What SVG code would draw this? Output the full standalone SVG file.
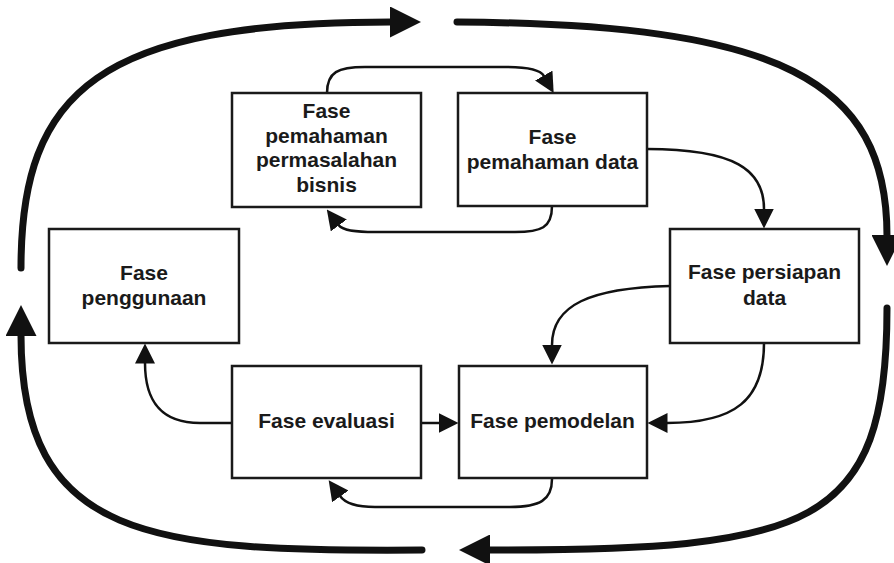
<svg xmlns="http://www.w3.org/2000/svg" width="894" height="563" viewBox="0 0 894 563">
<style>
.box{fill:none;stroke:#1a1a1a;stroke-width:2.5}
.lbl{font-family:"Liberation Sans",Arial,sans-serif;font-weight:bold;font-size:21px;fill:#1a1a1a;text-anchor:middle}
.thin{fill:none;stroke:#111;stroke-width:2.5;marker-end:url(#ah)}
.big{fill:none;stroke:#111;stroke-width:7;stroke-linecap:round;marker-end:url(#bh)}
</style>
<defs>
<marker id="ah" markerUnits="userSpaceOnUse" markerWidth="20" markerHeight="20" viewBox="0 0 20 20" refX="0.5" refY="10" orient="auto"><path d="M0,0 L20,10 L0,20 z" fill="#111"/></marker>
<marker id="bh" markerUnits="userSpaceOnUse" markerWidth="31" markerHeight="31" viewBox="0 0 31 31" refX="1" refY="15.5" orient="auto"><path d="M0,0 L31,15.5 L0,31 z" fill="#111"/></marker>
</defs>
<rect width="894" height="563" fill="#fff"/>
<g id="connectors">
<path class="big" d="M21,268 C21,90 100,22 391,22"/>
<path class="big" d="M457,22 C780,24 887,80 887,236"/>
<path class="big" d="M887,308 C887,530 810,550 489,550"/>
<path class="big" d="M422,550 C150,552 21,540 21,335"/>
<path class="thin" d="M327,93 C327,72 338,67 365,67 L505,67 C525,67 540,69 544,76"/>
<path class="thin" d="M552,206 C552,228 541,232 515,232 L375,232 C357,232 343,231 338.5,225"/>
<path class="thin" d="M647,149 C735,149 764,170 764,209"/>
<path class="thin" d="M670,286 C590,288 552,305 552,345"/>
<path class="thin" d="M764,343 C764,400 735,423 667,423"/>
<path class="thin" d="M421,423 L439,423"/>
<path class="thin" d="M232,423 L200,423 C160,423 145,400 145,363"/>
<path class="thin" d="M552,479 C552,500 540,507 510,507 L375,507 C358,507 345,503 340,496"/>
</g>
<g id="n-bisnis"><rect class="box" x="232" y="93" width="189" height="114"/>
<text class="lbl" x="326.5" y="118">Fase</text><text class="lbl" x="326.5" y="142.7">pemahaman</text><text class="lbl" x="326.5" y="167.3">permasalahan</text><text class="lbl" x="326.5" y="192">bisnis</text></g>
<g id="n-data"><rect class="box" x="458" y="93" width="189" height="113"/>
<text class="lbl" x="552.5" y="144">Fase</text><text class="lbl" x="552.5" y="169">pemahaman data</text></g>
<g id="n-penggunaan"><rect class="box" x="49" y="229" width="190" height="114"/>
<text class="lbl" x="144" y="280">Fase</text><text class="lbl" x="144" y="305">penggunaan</text></g>
<g id="n-persiapan"><rect class="box" x="670" y="229" width="189" height="114"/>
<text class="lbl" x="764.5" y="279">Fase persiapan</text><text class="lbl" x="764.5" y="305">data</text></g>
<g id="n-evaluasi"><rect class="box" x="232" y="366" width="189" height="112"/>
<text class="lbl" x="326.5" y="428">Fase evaluasi</text></g>
<g id="n-pemodelan"><rect class="box" x="459" y="366" width="188" height="112"/>
<text class="lbl" x="552.5" y="428">Fase pemodelan</text></g>
</svg>
